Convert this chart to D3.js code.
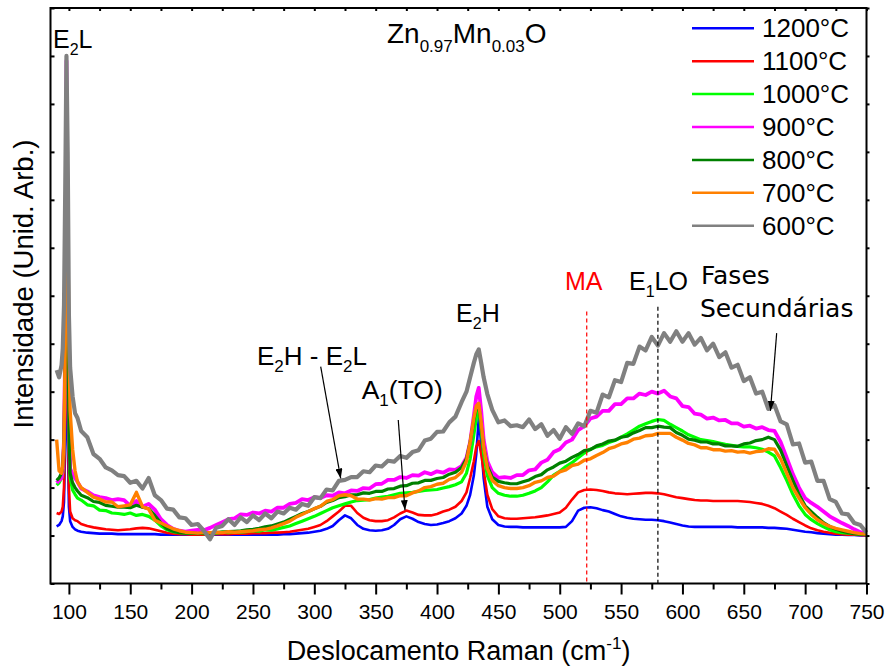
<!DOCTYPE html>
<html>
<head>
<meta charset="utf-8">
<script src="https://cdn.jsdelivr.net/npm/d3@7"></script>
<style>
  html, body { margin: 0; padding: 0; background: #fff; }
  svg { display: block; }
  text { font-family: "Liberation Sans", Arial, sans-serif; fill: #000; }
</style>
</head>
<body>
<svg id="chart" width="886" height="666"></svg>
<script>
// Raman shift grid (cm-1), denser around the E2L and E2H peaks
const ramanShift = [
  90, 92, 94, 95, 96, 97, 98, 99, 100, 101,
  103, 105, 107, 110, 115, 120, 125, 130, 135, 140,
  145, 150, 155, 160, 165, 170, 175, 180, 185, 190,
  195, 200, 205, 210, 215, 220, 225, 230, 235, 240,
  245, 250, 255, 260, 265, 270, 275, 280, 285, 290,
  295, 300, 305, 310, 315, 320, 325, 330, 335, 340,
  345, 350, 355, 360, 365, 370, 375, 380, 385, 390,
  395, 400, 405, 410, 415, 420, 424, 427, 430, 432,
  434, 436, 438, 441, 445, 450, 455, 460, 465, 470,
  475, 480, 485, 490, 495, 500, 505, 510, 515, 520,
  525, 530, 535, 540, 545, 550, 555, 560, 565, 570,
  575, 580, 585, 590, 595, 600, 605, 610, 615, 620,
  625, 630, 635, 640, 645, 650, 655, 660, 665, 670,
  675, 680, 685, 690, 695, 700, 705, 710, 715, 720,
  725, 730, 735, 740, 745, 750
];

// Intensity (arb. units) for each annealing temperature
const int1200 = [
  0.19, 0.22, 0.3, 0.4, 0.7, 2.0, 5.5, 2.2, 0.6, 0.3,
  0.18, 0.13, 0.1, 0.08, 0.06, 0.05, 0.04, 0.04, 0.04, 0.03,
  0.03, 0.03, 0.03, 0.03, 0.03, 0.03, 0.02, 0.02, 0.02, 0.02,
  0.02, 0.02, 0.02, 0.02, 0.02, 0.02, 0.02, 0.02, 0.02, 0.02,
  0.02, 0.02, 0.02, 0.02, 0.02, 0.02, 0.03, 0.03, 0.04, 0.05,
  0.06, 0.08, 0.1, 0.14, 0.2, 0.32, 0.42, 0.36, 0.22, 0.14,
  0.11, 0.1, 0.11, 0.14, 0.22, 0.34, 0.4, 0.35, 0.28, 0.24,
  0.22, 0.23, 0.26, 0.3, 0.36, 0.46, 0.62, 0.85, 1.25, 1.7,
  2.45, 1.9, 1.2, 0.6, 0.34, 0.22, 0.19, 0.18, 0.18, 0.17,
  0.17, 0.17, 0.17, 0.17, 0.17, 0.17, 0.18, 0.3, 0.52, 0.58,
  0.59, 0.57, 0.53, 0.5, 0.45, 0.4, 0.37, 0.35, 0.34, 0.33,
  0.33, 0.32, 0.3, 0.27, 0.24, 0.21, 0.19, 0.18, 0.18, 0.18,
  0.18, 0.18, 0.18, 0.18, 0.17, 0.17, 0.17, 0.17, 0.17, 0.16,
  0.16, 0.15, 0.14, 0.12, 0.1, 0.08, 0.07, 0.05, 0.04, 0.03,
  0.02, 0.02, 0.01, 0.01, 0.0, 0.0
];
const int1100 = [
  0.47, 0.45, 0.5, 0.6, 1.0, 2.5, 6.8, 3.5, 1.0, 0.5,
  0.36, 0.32, 0.3, 0.24, 0.2, 0.17, 0.15, 0.13, 0.12, 0.11,
  0.12, 0.13, 0.15, 0.16, 0.15, 0.12, 0.09, 0.06, 0.04, 0.03,
  0.03, 0.02, 0.02, 0.02, 0.03, 0.03, 0.03, 0.03, 0.04, 0.04,
  0.04, 0.05, 0.05, 0.05, 0.06, 0.06, 0.07, 0.08, 0.1, 0.12,
  0.14, 0.18, 0.22, 0.3, 0.4, 0.5, 0.62, 0.62, 0.47, 0.37,
  0.32, 0.3, 0.3, 0.32, 0.38, 0.46, 0.52, 0.48, 0.43, 0.42,
  0.42, 0.45, 0.5, 0.54, 0.6, 0.72, 0.9, 1.2, 1.55, 1.85,
  1.97, 1.7, 1.35, 0.85, 0.55, 0.4, 0.36, 0.35, 0.35, 0.36,
  0.37, 0.38, 0.4, 0.42, 0.45, 0.48, 0.58, 0.75, 0.9, 0.95,
  0.96, 0.95, 0.93, 0.9, 0.88, 0.87, 0.86, 0.87, 0.88, 0.89,
  0.89, 0.88, 0.86, 0.83, 0.8, 0.78, 0.76, 0.74, 0.73, 0.73,
  0.72, 0.72, 0.72, 0.72, 0.72, 0.71, 0.7, 0.68, 0.66, 0.62,
  0.57, 0.5, 0.43, 0.35, 0.28, 0.21, 0.15, 0.11, 0.08, 0.06,
  0.04, 0.03, 0.02, 0.02, 0.01, 0.0
];
const int1000 = [
  1.05, 1.1, 1.2, 1.3, 1.8, 3.5, 9.0, 5.0, 2.0, 1.2,
  0.95, 0.86, 0.78, 0.74, 0.64, 0.62, 0.53, 0.52, 0.47, 0.46,
  0.44, 0.47, 0.42, 0.44, 0.4, 0.32, 0.2, 0.12, 0.08, 0.06,
  0.05, 0.05, 0.06, 0.04, 0.06, 0.05, 0.07, 0.06, 0.08, 0.07,
  0.08, 0.1, 0.09, 0.12, 0.11, 0.14, 0.17, 0.2, 0.25, 0.3,
  0.35, 0.4, 0.46, 0.52, 0.58, 0.62, 0.66, 0.7, 0.73, 0.74,
  0.75, 0.78, 0.8, 0.82, 0.85, 0.88, 0.89, 0.9, 0.92, 0.94,
  0.95, 0.96, 0.99, 1.02, 1.06, 1.12, 1.3, 1.6, 2.1, 2.45,
  2.62, 2.2, 1.7, 1.25, 1.0, 0.88, 0.84, 0.82, 0.82, 0.84,
  0.88, 0.93, 1.0, 1.12, 1.26, 1.34, 1.44, 1.52, 1.62, 1.72,
  1.8, 1.85, 1.88, 1.94, 1.98, 2.05, 2.12, 2.2, 2.28, 2.33,
  2.38, 2.42, 2.4, 2.32, 2.25, 2.18, 2.1, 2.05, 2.0, 1.98,
  1.96, 1.93, 1.9, 1.88, 1.86, 1.85, 1.85, 1.83, 1.8, 1.74,
  1.66, 1.42, 1.15, 0.86, 0.62, 0.44, 0.33, 0.25, 0.18, 0.12,
  0.08, 0.06, 0.05, 0.04, 0.03, 0.02
];
const int900 = [
  1.1, 1.15, 1.2, 1.4, 2.0, 4.0, 9.9, 6.0, 2.5, 1.4,
  1.28, 1.2, 1.12, 0.98, 0.92, 0.84, 0.8, 0.78, 0.74, 0.76,
  0.74, 0.62, 0.72, 0.6, 0.66, 0.54, 0.34, 0.22, 0.14, 0.1,
  0.08, 0.1, 0.12, 0.11, 0.16, 0.22, 0.28, 0.34, 0.36, 0.44,
  0.43, 0.48, 0.46, 0.52, 0.5, 0.58, 0.58, 0.66, 0.68, 0.76,
  0.74, 0.8, 0.78, 0.84, 0.83, 0.9, 0.88, 0.94, 0.93, 0.99,
  0.98, 1.07, 1.08, 1.16, 1.16, 1.22, 1.2, 1.26, 1.25, 1.32,
  1.28, 1.34, 1.31, 1.38, 1.37, 1.45, 1.62, 1.95, 2.5, 2.9,
  3.08, 2.6, 2.0, 1.55, 1.32, 1.2, 1.22, 1.2, 1.26, 1.26,
  1.36, 1.38, 1.52, 1.58, 1.74, 1.8, 1.94, 2.0, 2.2, 2.28,
  2.44, 2.48, 2.6, 2.6, 2.74, 2.74, 2.86, 2.86, 2.96, 2.93,
  3.0, 2.96, 3.02, 2.9, 2.86, 2.7, 2.68, 2.54, 2.52, 2.44,
  2.46, 2.4, 2.41, 2.34, 2.34, 2.27, 2.29, 2.23, 2.26, 2.2,
  2.18, 1.95, 1.62, 1.28, 1.0, 0.78, 0.68, 0.6, 0.5, 0.4,
  0.33, 0.26, 0.2, 0.13, 0.07, 0.03
];
const int800 = [
  1.15, 1.2, 1.3, 1.45, 2.0, 3.8, 8.8, 5.5, 2.2, 1.3,
  1.1, 1.0, 0.93, 0.84, 0.79, 0.71, 0.69, 0.63, 0.61, 0.59,
  0.59, 0.58, 0.63, 0.59, 0.56, 0.42, 0.26, 0.14, 0.09, 0.06,
  0.05, 0.05, 0.04, 0.05, 0.06, 0.06, 0.07, 0.08, 0.09, 0.1,
  0.12, 0.13, 0.15, 0.18, 0.2, 0.24, 0.28, 0.34, 0.4, 0.46,
  0.5, 0.56, 0.61, 0.69, 0.73, 0.79, 0.81, 0.85, 0.85, 0.89,
  0.88, 0.92, 0.92, 0.97, 0.98, 1.03, 1.04, 1.09, 1.1, 1.15,
  1.15, 1.19, 1.21, 1.28, 1.32, 1.42, 1.6, 1.95, 2.4, 2.65,
  2.72, 2.3, 1.85, 1.45, 1.22, 1.13, 1.1, 1.08, 1.08, 1.12,
  1.16, 1.23, 1.27, 1.37, 1.43, 1.51, 1.55, 1.63, 1.69, 1.77,
  1.79, 1.87, 1.91, 1.97, 1.99, 2.05, 2.07, 2.14, 2.19, 2.25,
  2.25, 2.28, 2.26, 2.25, 2.15, 2.09, 2.01, 1.99, 1.95, 1.95,
  1.91, 1.91, 1.87, 1.87, 1.86, 1.91, 1.93, 1.98, 2.0, 2.05,
  2.0, 1.78, 1.46, 1.15, 0.86, 0.62, 0.5, 0.38, 0.27, 0.19,
  0.13, 0.09, 0.06, 0.04, 0.03, 0.02
];
const int700 = [
  2.0, 1.35, 1.3, 1.45, 2.0, 4.0, 8.5, 6.8, 4.0, 2.6,
  1.8, 1.35, 1.12, 1.0, 0.9, 0.8, 0.76, 0.7, 0.7, 0.6,
  0.62, 0.64, 0.9, 0.6, 0.55, 0.32, 0.26, 0.2, 0.14, 0.1,
  0.07, 0.06, 0.05, 0.06, 0.06, 0.07, 0.06, 0.08, 0.07, 0.08,
  0.09, 0.1, 0.12, 0.13, 0.16, 0.2, 0.25, 0.3, 0.38, 0.44,
  0.5, 0.56, 0.61, 0.71, 0.75, 0.83, 0.85, 0.83, 0.76, 0.76,
  0.74, 0.77, 0.76, 0.79, 0.79, 0.83, 0.83, 0.89, 0.93, 1.0,
  1.02, 1.07, 1.09, 1.17, 1.21, 1.32, 1.55, 1.95, 2.45, 2.7,
  2.76, 2.35, 1.85, 1.4, 1.15, 1.04, 1.0, 0.98, 0.98, 1.0,
  1.04, 1.11, 1.14, 1.21, 1.24, 1.33, 1.37, 1.46, 1.49, 1.57,
  1.6, 1.67, 1.73, 1.81, 1.85, 1.91, 1.94, 2.01, 2.03, 2.08,
  2.09, 2.13, 2.13, 2.13, 2.05, 1.99, 1.92, 1.89, 1.83, 1.83,
  1.79, 1.79, 1.76, 1.77, 1.74, 1.75, 1.72, 1.75, 1.76, 1.81,
  1.8, 1.6, 1.3, 1.0, 0.78, 0.58, 0.44, 0.33, 0.25, 0.19,
  0.15, 0.12, 0.09, 0.06, 0.04, 0.03
];
const int600 = [
  3.45, 3.3, 3.55, 3.9, 4.8, 7.2, 10.0, 8.0, 4.6, 3.5,
  2.9, 2.55, 2.45, 2.18, 2.05, 1.7, 1.6, 1.42, 1.36, 1.26,
  1.24, 1.1, 1.14, 0.98, 1.2, 0.84, 0.74, 0.56, 0.54, 0.38,
  0.36, 0.22, 0.24, 0.1, -0.08, 0.16, 0.2, 0.34, 0.22, 0.38,
  0.28, 0.42, 0.32, 0.46, 0.36, 0.5, 0.46, 0.58, 0.54, 0.66,
  0.62, 0.8, 0.78, 0.96, 0.94, 1.14, 1.16, 1.22, 1.22, 1.34,
  1.32, 1.46, 1.44, 1.56, 1.54, 1.66, 1.62, 1.74, 1.78, 1.98,
  2.02, 2.16, 2.17, 2.36, 2.48, 2.78, 3.0, 3.3, 3.6, 3.78,
  3.88, 3.6, 3.3, 2.95, 2.62, 2.36, 2.4, 2.28, 2.3, 2.26,
  2.42, 2.22, 2.32, 2.08, 2.2, 2.02, 2.26, 2.12, 2.34, 2.28,
  2.6, 2.56, 2.94, 2.88, 3.24, 3.2, 3.6, 3.58, 3.94, 3.86,
  4.14, 3.96, 4.22, 4.04, 4.26, 4.04, 4.22, 3.98, 4.12, 3.86,
  4.0, 3.72, 3.82, 3.5, 3.56, 3.22, 3.3, 2.96, 3.0, 2.64,
  2.72, 2.38, 2.32, 1.9, 1.92, 1.52, 1.54, 1.14, 1.14, 0.76,
  0.7, 0.46, 0.44, 0.26, 0.22, 0.06
];

const seriesNames  = ["1200°C", "1100°C", "1000°C", "900°C", "800°C", "700°C", "600°C"];
const seriesValues = [int1200, int1100, int1000, int900, int800, int700, int600];
const seriesColors = ["#0000ff", "#ff0000", "#00ff00", "#ff00ff", "#008000", "#ff8000", "#808080"];
const seriesWidths = [2.6, 2.6, 3.2, 3.8, 3.2, 3.4, 4.2];

const xMajorTicks = [100, 150, 200, 250, 300, 350, 400, 450, 500, 550, 600, 650, 700, 750];
const xMinorTicks = [125, 175, 225, 275, 325, 375, 425, 475, 525, 575, 625, 675, 725];
const yTicks = [-1, 0, 1, 2, 3, 4, 5, 6, 7, 8, 9, 10, 11];

// Vertical reference lines (cm-1)
const refLines = [
  { x: 522, top: 4.67, color: "#ff0000" },  // MA
  { x: 580, top: 4.77, color: "#000000" }   // E1LO
];

// Peak labels: text pieces with subscripts, anchored in data coordinates
const peakLabels = [
  { parts: [["E"], ["2", "sub"], ["L"]], at: [87.0, 10.16], anchor: "start", size: 25 },
  { parts: [["E"], ["2", "sub"], ["H - E"], ["2", "sub"], ["L"]], at: [342.9, 3.56], anchor: "end", size: 26 },
  { parts: [["A"], ["1", "sub"], ["(TO)"]], at: [338.6, 2.84], anchor: "start", size: 26.5 },
  { parts: [["E"], ["2", "sub"], ["H"]], at: [415.5, 4.46], anchor: "start", size: 25 },
  { parts: [["MA"]], at: [504.3, 5.12], anchor: "start", size: 25, color: "#ff0000" },
  { parts: [["E"], ["1", "sub"], ["LO"]], at: [556.4, 5.12], anchor: "start", size: 25 },
  { parts: [["Fases"]], at: [615.1, 5.24], anchor: "start", size: 25, family: "DejaVu Sans" },
  { parts: [["Secundárias"]], at: [614.3, 4.56], anchor: "start", size: 25, family: "DejaVu Sans" }
];

// Arrows pointing at weak modes: [from, to] in data coordinates
const arrows = [
  [[305.2, 3.52], [321.5, 1.19]],
  [[368.4, 2.41], [373.9, 0.53]],
  [[676.8, 4.22], [671.7, 2.60]]
];

const svg = d3.select("#chart");
const frame = { left: 50.5, right: 866.5, top: 8, bottom: 583.5 };

const x = d3.scaleLinear().domain([85, 750]).range([frame.left, frame.right]);
const y = d3.scaleLinear().domain([-1, 11]).range([frame.bottom, frame.top]);

svg.append("defs").append("marker")
  .attr("id", "arrowhead")
  .attr("viewBox", "0 0 10 7")
  .attr("refX", 10).attr("refY", 3.5)
  .attr("markerWidth", 10).attr("markerHeight", 7)
  .attr("markerUnits", "userSpaceOnUse")
  .attr("orient", "auto")
  .append("path").attr("d", "M0,0 L10,3.5 L0,7 Z").attr("fill", "#000");

// Spectra
const line = d3.line()
  .x((d, i) => x(ramanShift[i]))
  .y(d => y(d));

svg.append("g").selectAll("path")
  .data(seriesValues)
  .join("path")
  .attr("d", d => line(d))
  .attr("fill", "none")
  .attr("stroke", (d, i) => seriesColors[i])
  .attr("stroke-width", (d, i) => seriesWidths[i])
  .attr("stroke-linejoin", "round");

// Dashed reference lines
svg.append("g").selectAll("line")
  .data(refLines)
  .join("line")
  .attr("x1", d => x(d.x)).attr("x2", d => x(d.x))
  .attr("y1", d => y(d.top)).attr("y2", y(-1))
  .attr("stroke", d => d.color)
  .attr("stroke-width", 1.2)
  .attr("stroke-dasharray", "4,3");

// Arrows
svg.append("g").selectAll("line")
  .data(arrows)
  .join("line")
  .attr("x1", d => x(d[0][0])).attr("y1", d => y(d[0][1]))
  .attr("x2", d => x(d[1][0])).attr("y2", d => y(d[1][1]))
  .attr("stroke", "#000")
  .attr("stroke-width", 1.2)
  .attr("marker-end", "url(#arrowhead)");

// Axes
function styleAxis(g) {
  g.select(".domain").remove();
  g.selectAll(".tick line").attr("stroke", "#000").attr("stroke-width", 2);
}

svg.append("g")
  .attr("transform", `translate(0,${frame.bottom})`)
  .call(d3.axisBottom(x).tickValues(xMajorTicks).tickSize(11).tickPadding(10).tickFormat(d3.format("d")))
  .call(styleAxis)
  .call(g => g.selectAll("text")
    .style("font-family", '"Liberation Sans", Arial, sans-serif')
    .style("font-size", "21px").attr("fill", "#000"));

svg.append("g")
  .attr("transform", `translate(0,${frame.bottom})`)
  .call(d3.axisBottom(x).tickValues(xMinorTicks).tickSize(6).tickFormat(""))
  .call(styleAxis);

svg.append("g")
  .attr("transform", `translate(0,${frame.top})`)
  .call(d3.axisTop(x).tickValues(xMajorTicks.concat(xMinorTicks)).tickSize(-3).tickFormat(""))
  .call(styleAxis);

svg.append("g")
  .attr("transform", `translate(${frame.left},0)`)
  .call(d3.axisLeft(y).tickValues(yTicks).tickSize(-4).tickFormat(""))
  .call(styleAxis);

svg.append("g")
  .attr("transform", `translate(${frame.right},0)`)
  .call(d3.axisRight(y).tickValues(yTicks).tickSize(3).tickFormat(""))
  .call(styleAxis);

svg.append("rect")
  .attr("x", frame.left).attr("y", frame.top)
  .attr("width", frame.right - frame.left).attr("height", frame.bottom - frame.top)
  .attr("fill", "none").attr("stroke", "#000").attr("stroke-width", 2);

// Axis titles
const xTitle = svg.append("text")
  .attr("x", (frame.left + frame.right) / 2).attr("y", 660)
  .attr("text-anchor", "middle")
  .style("font-size", "27px");
xTitle.append("tspan").text("Deslocamento Raman (cm");
xTitle.append("tspan").text("-1").style("font-size", "17px").attr("dy", -11);
xTitle.append("tspan").text(")").attr("dy", 11);

svg.append("text")
  .attr("transform", "translate(33,284) rotate(-90)")
  .attr("text-anchor", "middle")
  .style("font-size", "27.5px")
  .text("Intensidade (Unid. Arb.)");

// Sample composition
const title = svg.append("text")
  .attr("x", x(359.2)).attr("y", y(10.27))
  .style("font-size", "28px");
[["Zn"], ["0.97", "sub"], ["Mn"], ["0.03", "sub"], ["O"]].forEach((p, i, arr) => {
  const prevSub = i > 0 && arr[i - 1][1] === "sub";
  const t = title.append("tspan").text(p[0]);
  if (p[1] === "sub") t.style("font-size", "17px").attr("dy", 9);
  else if (prevSub) t.attr("dy", -9);
});

// Peak labels
peakLabels.forEach(lbl => {
  const t = svg.append("text")
    .attr("x", x(lbl.at[0])).attr("y", y(lbl.at[1]))
    .attr("text-anchor", lbl.anchor)
    .style("font-size", lbl.size + "px")
    .style("fill", lbl.color || "#000");
  if (lbl.family) t.style("font-family", `"${lbl.family}", sans-serif`);
  lbl.parts.forEach((p, i, arr) => {
    const prevSub = i > 0 && arr[i - 1][1] === "sub";
    const s = t.append("tspan").text(p[0]);
    if (p[1] === "sub") s.style("font-size", Math.round(lbl.size * 0.64) + "px").attr("dy", 7);
    else if (prevSub) s.attr("dy", -7);
  });
});

// Legend
const legend = svg.append("g").attr("transform", "translate(692,28.3)");
const rows = legend.selectAll("g")
  .data(seriesNames)
  .join("g")
  .attr("transform", (d, i) => `translate(0,${i * 32.9})`);
rows.append("line")
  .attr("x1", 0).attr("x2", 62)
  .attr("stroke", (d, i) => seriesColors[i])
  .attr("stroke-width", 2.5);
rows.append("text")
  .attr("x", 70).attr("y", 9)
  .style("font-size", "26px")
  .text(d => d);
</script>
</body>
</html>
